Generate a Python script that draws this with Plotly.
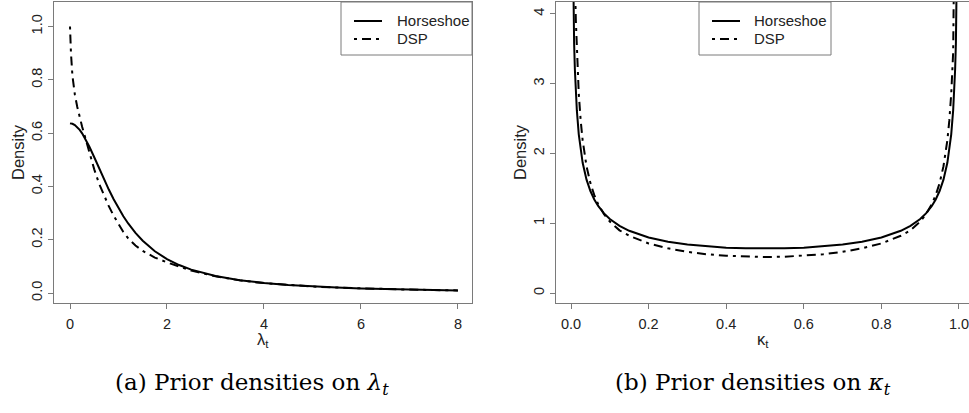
import plotly.graph_objects as go

# ---------------- data ----------------
series_names = ["Horseshoe", "DSP"]

lam = [0, 0.01, 0.02, 0.05, 0.1, 0.15, 0.2, 0.25, 0.3, 0.35, 0.4, 0.5, 0.6, 0.7, 0.8, 0.9,
       1.0, 1.1, 1.2, 1.35, 1.5, 1.75, 2.0, 2.25, 2.5, 3.0, 3.5, 4.0, 4.5, 5.0, 5.5,
       6.0, 6.5, 7.0, 7.5, 8.0]
hs_lam = [0.6366, 0.6365, 0.6363, 0.6350, 0.6303, 0.6226, 0.6121, 0.5992, 0.5840, 0.5672,
          0.5488, 0.5093, 0.4681, 0.4273, 0.3882, 0.3517, 0.3183, 0.2881, 0.2609, 0.2255,
          0.1959, 0.1567, 0.1273, 0.1050, 0.0878, 0.0637, 0.0480, 0.0374, 0.0300, 0.0245,
          0.0204, 0.0172, 0.0147, 0.0127, 0.0111, 0.0098]
dsp_lam = [1.000, 0.945, 0.900, 0.815, 0.745, 0.698, 0.658, 0.624, 0.592, 0.558,
           0.524, 0.464, 0.410, 0.365, 0.326, 0.290, 0.257, 0.229, 0.205, 0.178,
           0.158, 0.133, 0.115, 0.098, 0.084, 0.0625, 0.0475, 0.0372, 0.0299, 0.0244,
           0.0204, 0.0172, 0.0147, 0.0127, 0.0111, 0.0098]

kappa = [0.003, 0.005, 0.006, 0.008, 0.01, 0.0125, 0.015, 0.02, 0.025, 0.03, 0.04, 0.05,
         0.06, 0.07, 0.085, 0.1, 0.125, 0.15, 0.2, 0.25, 0.3, 0.35, 0.4, 0.45, 0.5,
         0.55, 0.6, 0.65, 0.7, 0.75, 0.8, 0.85, 0.875, 0.9, 0.915, 0.93, 0.94, 0.95,
         0.96, 0.97, 0.975, 0.98, 0.985, 0.9875, 0.99, 0.992, 0.994, 0.995, 0.997]
hs_kappa = [5.82, 4.513, 4.122, 3.573, 3.199, 2.865, 2.619, 2.274, 2.039, 1.866, 1.624, 1.461,
            1.340, 1.248, 1.141, 1.061, 0.9625, 0.8914, 0.7958, 0.7351, 0.6946, 0.6674, 0.6497, 0.6398, 0.6366,
            0.6398, 0.6497, 0.6674, 0.6946, 0.7351, 0.7958, 0.8914, 0.9625, 1.061, 1.141, 1.248, 1.340, 1.461,
            1.624, 1.866, 2.039, 2.274, 2.619, 2.865, 3.199, 3.573, 4.122, 4.513, 5.82]
dsp_kappa = [10.1, 7.18, 6.36, 5.25, 4.52, 3.90, 3.45, 2.855, 2.466, 2.188, 1.816, 1.574,
             1.402, 1.273, 1.129, 1.024, 0.898, 0.820, 0.710, 0.640, 0.590, 0.555, 0.533, 0.520, 0.516,
             0.520, 0.533, 0.555, 0.590, 0.640, 0.710, 0.820, 0.898, 1.024, 1.129, 1.273, 1.402, 1.574,
             1.816, 2.188, 2.466, 2.855, 3.45, 3.90, 4.52, 5.25, 6.36, 7.18, 10.1]

lam_ticks = [0, 2, 4, 6, 8]
dens_ticks_a = [0.0, 0.2, 0.4, 0.6, 0.8, 1.0]
kappa_ticks = [0.0, 0.2, 0.4, 0.6, 0.8, 1.0]
dens_ticks_b = [0, 1, 2, 3, 4]

# ---------------- layout helpers (pixel -> paper) ----------------
W, H = 969, 413
def fx(p):
    return p / W
def fy(p):
    return 1 - p / H

BOX = "#7a7a7a"
TXT = "#222222"
AXFONT = dict(family="Liberation Sans, Arial, sans-serif", size=14.5, color=TXT)
LABFONT = dict(family="Liberation Sans, Arial, sans-serif", size=16.5, color=TXT)
DSP_DASH = "3px,5px,9px,5px"

fig = go.Figure()

fig.add_trace(go.Scatter(x=lam, y=hs_lam, mode="lines", name=series_names[0],
                         line=dict(color="black", width=2), xaxis="x", yaxis="y", showlegend=False))
fig.add_trace(go.Scatter(x=lam, y=dsp_lam, mode="lines", name=series_names[1],
                         line=dict(color="black", width=2, dash=DSP_DASH), xaxis="x", yaxis="y", showlegend=False))
fig.add_trace(go.Scatter(x=kappa, y=hs_kappa, mode="lines", name=series_names[0],
                         line=dict(color="black", width=2), xaxis="x2", yaxis="y2", showlegend=False))
fig.add_trace(go.Scatter(x=kappa, y=dsp_kappa, mode="lines", name=series_names[1],
                         line=dict(color="black", width=2, dash=DSP_DASH), xaxis="x2", yaxis="y2", showlegend=False))

axis_common = dict(showgrid=False, zeroline=False, ticks="outside", ticklen=5, tickwidth=1,
                   tickcolor=BOX, linecolor=BOX, linewidth=1, tickfont=AXFONT,
                   ticklabeloverflow="allow")

fig.update_layout(
    width=W, height=H, margin=dict(l=0, r=0, t=0, b=0),
    paper_bgcolor="white", plot_bgcolor="white",
    xaxis=dict(domain=[fx(54), fx(472)], range=[-0.33, 8.29], tickvals=lam_ticks,
               showline=True, mirror=True, anchor="y", ticklabelstandoff=3, **axis_common),
    yaxis=dict(domain=[fy(303), fy(2)], range=[-0.0375, 1.092], tickvals=dens_ticks_a,
               tickformat=".1f", tickangle=-90, showline=True, mirror=True, anchor="x", **axis_common),
    xaxis2=dict(domain=[fx(556), 1.0], range=[-0.0387, 1.0258], tickvals=kappa_ticks,
                tickformat=".1f", showline=True, mirror=True, anchor="y2", ticklabelstandoff=3, **axis_common),
    yaxis2=dict(domain=[fy(303), fy(2)], range=[-0.143, 4.169], tickvals=dens_ticks_b,
                tickformat="d", tickangle=-90, showline=True, mirror=False, anchor="x2", **axis_common),
)

annots = []
# axis titles
for xc in (18, 520):
    annots.append(dict(x=fx(xc), y=fy(152), xref="paper", yref="paper", text="Density",
                       textangle=-90, showarrow=False, font=LABFONT, xanchor="center", yanchor="middle"))
annots.append(dict(x=fx(263), y=fy(340), xref="paper", yref="paper", text="λ<sub>t</sub>",
                   showarrow=False, font=LABFONT, xanchor="center", yanchor="middle"))
annots.append(dict(x=fx(763), y=fy(340), xref="paper", yref="paper", text="κ<sub>t</sub>",
                   showarrow=False, font=LABFONT, xanchor="center", yanchor="middle"))
# captions
CAPFONT = dict(family="DejaVu Serif, serif", size=23, color="black")
annots.append(dict(x=fx(252), y=fy(384), xref="paper", yref="paper",
                   text="(a) Prior densities on <i>λ</i><sub><i>t</i></sub>",
                   showarrow=False, font=CAPFONT, xanchor="center", yanchor="middle"))
annots.append(dict(x=fx(753), y=fy(384), xref="paper", yref="paper",
                   text="(b) Prior densities on <i>κ</i><sub><i>t</i></sub>",
                   showarrow=False, font=CAPFONT, xanchor="center", yanchor="middle"))

# legends (manual, boxed)
shapes = []
LEGFONT = dict(family="Liberation Sans, Arial, sans-serif", size=15, color=TXT)
for (bx0, bx1, lx0, lx1, tx) in [(341, 472, 354, 382, 395), (699, 831, 712, 740, 752)]:
    shapes.append(dict(type="rect", xref="paper", yref="paper", x0=fx(bx0), x1=fx(bx1),
                       y0=fy(55), y1=fy(2), line=dict(color=BOX, width=1), fillcolor="white", layer="above"))
    for i, (name, ly) in enumerate(zip(series_names, (21, 39))):
        shapes.append(dict(type="line", xref="paper", yref="paper", x0=fx(lx0), x1=fx(lx1),
                           y0=fy(ly), y1=fy(ly),
                           line=dict(color="black", width=2, dash=("solid" if i == 0 else DSP_DASH)),
                           layer="above"))
        annots.append(dict(x=fx(tx), y=fy(ly), xref="paper", yref="paper", text=name,
                           showarrow=False, font=LEGFONT, xanchor="left", yanchor="middle"))

fig.update_layout(annotations=annots, shapes=shapes)

fig.write_html("out.html")
